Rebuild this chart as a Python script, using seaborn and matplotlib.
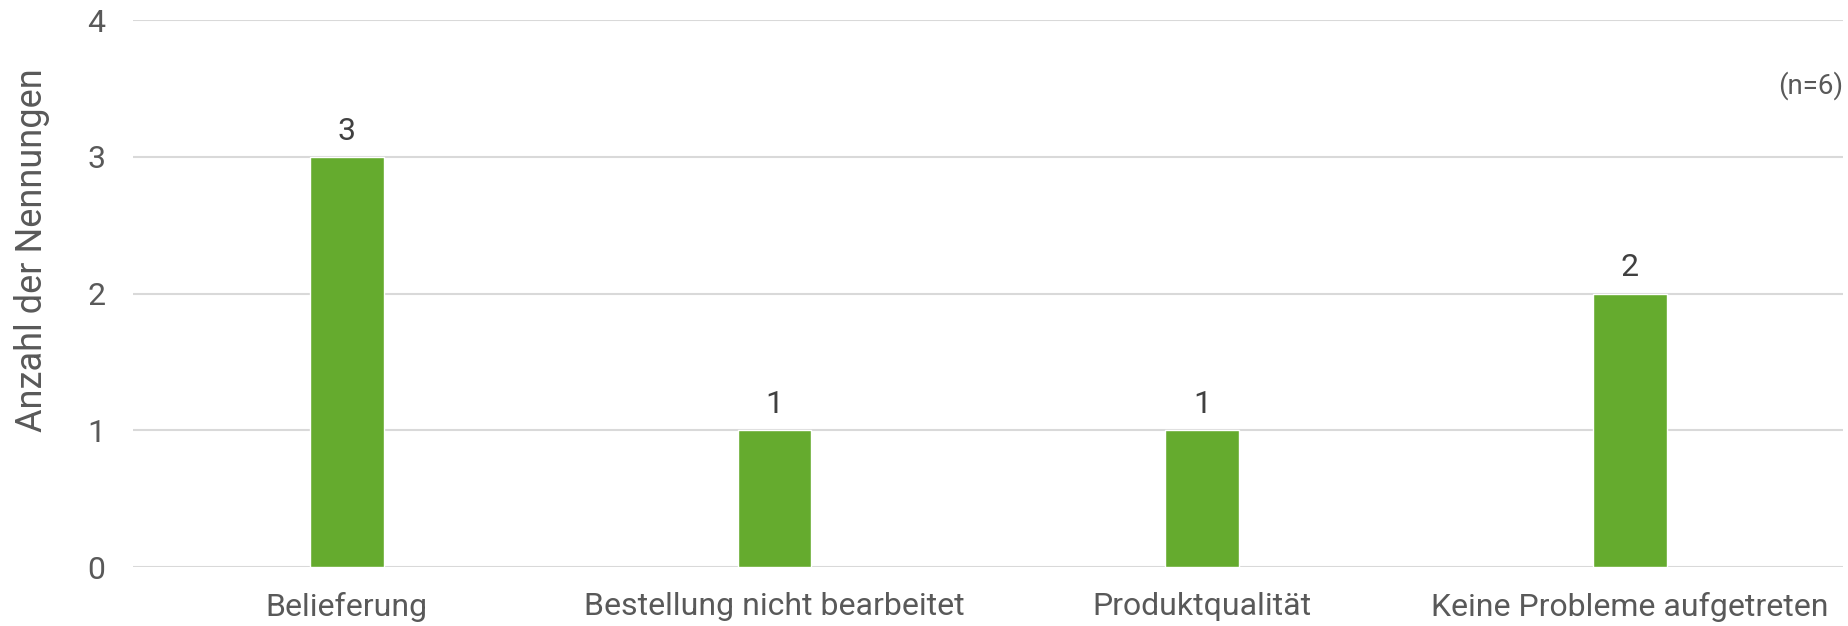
import pandas as pd
import matplotlib.pyplot as plt
import seaborn as sns

# data
categories = ["Belieferung", "Bestellung nicht bearbeitet", "Produktqualität", "Keine Probleme aufgetreten"]
counts = [3, 1, 1, 2]
yticks = [0, 1, 2, 3, 4]

df = pd.DataFrame({"Kategorie": categories, "Anzahl": counts})

sns.set_theme(style="white")
plt.rcParams['font.family'] = ['Roboto', 'DejaVu Sans']

text_grey = "#595959"
bar_green = "#65AB2E"

fig = plt.figure(figsize=(18.49, 6.26), dpi=100)
ax = fig.add_axes([0.072, 0.094, 0.925, 0.874])

sns.barplot(data=df, x="Kategorie", y="Anzahl", color=bar_green, width=0.173,
            saturation=1, ax=ax, zorder=3)

ax.set_ylim(0, 4)
ax.set_yticks(yticks)
ax.grid(axis="y", color="#D9D9D9", linewidth=1.5, zorder=0)
for s in ax.spines.values():
    s.set_visible(False)

ax.tick_params(axis="y", length=0, pad=20, labelsize=23, labelcolor=text_grey)
ax.tick_params(axis="x", length=0, pad=18, labelsize=23, labelcolor=text_grey)
ax.set_xlabel("")
ax.set_ylabel("Anzahl der Nennungen", fontsize=26, color=text_grey, labelpad=27)
ax.yaxis.label.set_y(0.58)

for i, v in enumerate(counts):
    ax.annotate(str(v), (i, v), xytext=(0, 8), textcoords="offset points",
                ha="center", va="bottom", fontsize=23, color="#404040")

fig.text(0.997, 0.863, "(n=6)", ha="right", va="center", fontsize=20, color=text_grey)

fig.savefig("out.png", dpi=100)
